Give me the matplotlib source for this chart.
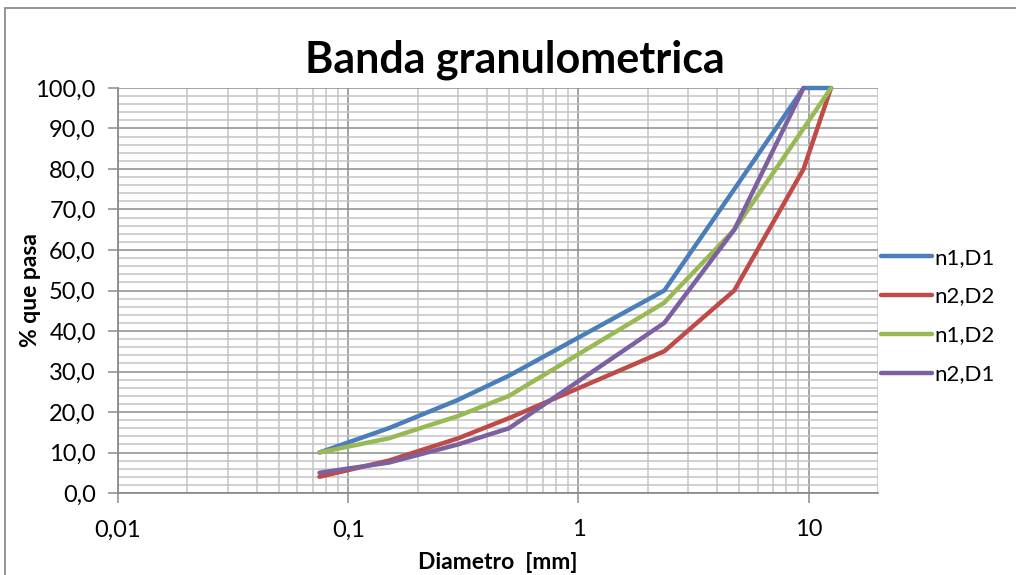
import numpy as np
import matplotlib
matplotlib.use("Agg")
import matplotlib.pyplot as plt
from matplotlib.ticker import FuncFormatter, LogLocator, MultipleLocator, FixedLocator
from matplotlib.patches import Rectangle

plt.rcParams['font.family'] = ['Lato', 'DejaVu Sans']

# tamices (mm) y porcentaje que pasa para cada banda
diam = [0.075, 0.15, 0.3, 0.5, 2.36, 4.75, 9.5, 12.5]
n1_d1 = [10, 16, 23, 29, 50, 75, 100, 100]
n2_d2 = [4, 8, 13.5, 18.5, 35, 50, 80, 100]
n1_d2 = [10, 13.5, 19, 24, 47, 65, 90, 100]
n2_d1 = [5, 7.5, 12, 16, 42, 65, 100, np.nan]

series = [
    ("n1,D1", n1_d1, "#4A7EBB"),
    ("n2,D2", n2_d2, "#BE4B48"),
    ("n1,D2", n1_d2, "#98B954"),
    ("n2,D1", n2_d1, "#7D60A0"),
]

fig = plt.figure(figsize=(10.16, 5.75), dpi=100)
ax = fig.add_axes([118 / 1016, 1 - 493 / 575, 760 / 1016, 405 / 575])

for name, vals, col in series:
    ax.plot(diam, vals, color=col, lw=3.2, label=name, clip_on=False,
            solid_joinstyle='round', solid_capstyle='round', zorder=3)

ax.set_xscale('log')
ax.set_xlim(0.01, 20)
ax.set_ylim(0, 100)

ax.xaxis.set_major_locator(FixedLocator([0.01, 0.1, 1, 10]))
ax.xaxis.set_minor_locator(LogLocator(base=10, subs=np.arange(2, 10), numticks=20))
ax.yaxis.set_major_locator(MultipleLocator(10))
ax.yaxis.set_minor_locator(MultipleLocator(2))

ax.xaxis.set_major_formatter(FuncFormatter(lambda v, p: f"{v:g}".replace('.', ',')))
ax.yaxis.set_major_formatter(FuncFormatter(lambda v, p: f"{v:.1f}".replace('.', ',')))

ax.grid(which='major', color='#8C8C8C', lw=1.1, zorder=1)
ax.grid(which='minor', color='#C4C4C4', lw=1.1, zorder=1)
ax.set_axisbelow(True)

ax.tick_params(which='major', direction='out', length=7, width=1.1, color='#8C8C8C',
               labelsize=17, labelcolor='black')
ax.tick_params(axis='x', which='major', pad=12)
ax.tick_params(axis='y', which='major', pad=9)
ax.tick_params(which='minor', length=0)

for side in ['top', 'right']:
    ax.spines[side].set_visible(False)
for side in ['left', 'bottom']:
    ax.spines[side].set_color('#8C8C8C')
    ax.spines[side].set_linewidth(1.3)

ax.set_xlabel("Diametro  [mm]", fontsize=16.5, fontweight='bold', va='center')
ax.set_ylabel("% que pasa", fontsize=16.5, fontweight='bold', va='center')
ax.xaxis.set_label_coords(0.5, -0.172)
ax.yaxis.set_label_coords(-0.115, 0.5)

fig.text(515 / 1016, 1 - 60 / 575, "Banda granulometrica", ha='center', va='center',
         fontsize=31, fontweight='bold')

fig.legend(loc='center left', bbox_to_anchor=(872 / 1016, 1 - 316 / 575),
           frameon=False, fontsize=16, handlelength=2.3, handletextpad=0.1,
           labelspacing=0.85, borderaxespad=0)

# marco exterior del grafico
top = 1 - 8 / 575
fig.patches.append(Rectangle((5 / 1016, -0.2), 1.2, top + 0.2,
                             transform=fig.transFigure, fill=False,
                             edgecolor='#8C8C8C', lw=1.3))

fig.savefig("out.png", dpi=100)
